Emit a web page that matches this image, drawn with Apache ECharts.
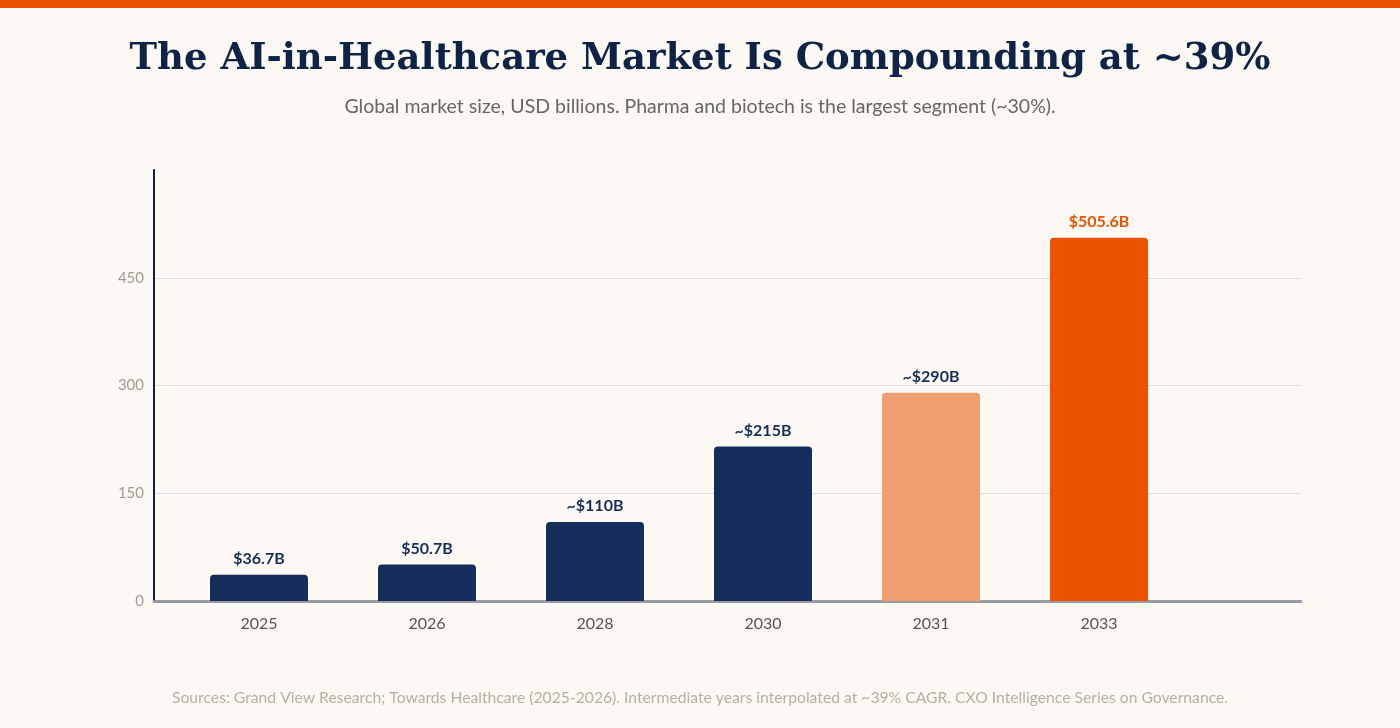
<!DOCTYPE html>
<html><head><meta charset="utf-8">
<script src="https://cdn.jsdelivr.net/npm/echarts@6/dist/echarts.min.js"></script>
<style>html,body{margin:0;padding:0;background:#fcf8f3;}#c{width:1400px;height:728px;}</style>
</head><body><div id="c"></div>
<script>
const categories = ['2025','2026','2028','2030','2031','2033'];
const values = [36.7, 50.7, 110, 215, 290, 505.6];
const labels = ['$36.7B','$50.7B','~$110B','~$215B','~$290B','$505.6B'];
const colors = ['#142d5a','#142d5a','#142d5a','#142d5a','#f09e6f','#ea5400'];
const labelColors = ['#142d5a','#142d5a','#142d5a','#142d5a','#142d5a','#e85400'];
const yTicks = [0,150,300,450,600];

const chart = echarts.init(document.getElementById('c'));
chart.setOption({
  backgroundColor:'#fcf8f3',
  graphic:[{type:'rect',left:0,top:0,shape:{width:1400,height:8},style:{fill:'#ea5400'}}],
  title:[
    {text:'The AI-in-Healthcare Market Is Compounding at ~39%',left:'center',top:36,
     textStyle:{fontFamily:'DejaVu Serif',fontWeight:'bold',fontSize:37,color:'#0f2347'}},
    {text:'Global market size, USD billions. Pharma and biotech is the largest segment (~30%).',left:'center',top:92,
     textStyle:{fontFamily:'Lato',fontWeight:'normal',fontSize:19.5,color:'#666'}},
    {text:'Sources: Grand View Research; Towards Healthcare (2025-2026). Intermediate years interpolated at ~39% CAGR. CXO Intelligence Series on Governance.',
     left:'center',top:685,textStyle:{fontFamily:'Lato',fontWeight:'normal',fontSize:15.7,color:'#b8afa3'}}
  ],
  grid:[
    {left:154,right:99,top:170,bottom:127},
    {left:175,right:217,top:170,bottom:127}
  ],
  xAxis:[
    {type:'value',gridIndex:0,min:0,max:1,axisLabel:{show:false},splitLine:{show:false},axisTick:{show:false},
     axisLine:{show:true,onZero:false,lineStyle:{color:'#9a9aa4',width:3}}},
    {type:'category',gridIndex:1,data:categories,axisLine:{show:false},axisTick:{show:false},
     axisLabel:{fontFamily:'Lato',fontSize:16,color:'#555',margin:15}}
  ],
  yAxis:[
    {type:'value',gridIndex:0,min:0,max:600,interval:150,
     axisLine:{show:true,lineStyle:{color:'#0f2347',width:2}},axisTick:{show:false},
     axisLabel:{fontFamily:'Lato',fontSize:15,color:'#a39c92',margin:10,
       formatter:v=>v===600?'':String(v)},
     splitLine:{show:true,lineStyle:{color:['#e8e0d4','#e8e0d4','#e8e0d4','#e8e0d4','rgba(0,0,0,0)'],width:1}}},
    {type:'value',gridIndex:1,min:0,max:600,interval:150,show:false}
  ],
  series:[{
    type:'bar',xAxisIndex:1,yAxisIndex:1,barWidth:98,
    data:values.map((v,i)=>({value:v,itemStyle:{color:colors[i],borderRadius:[4,4,0,0]},
      label:{show:true,position:'top',distance:8,formatter:labels[i],
        fontFamily:'Lato',fontWeight:'bold',fontSize:16,color:labelColors[i]}}))
  }]
});
</script></body></html>
